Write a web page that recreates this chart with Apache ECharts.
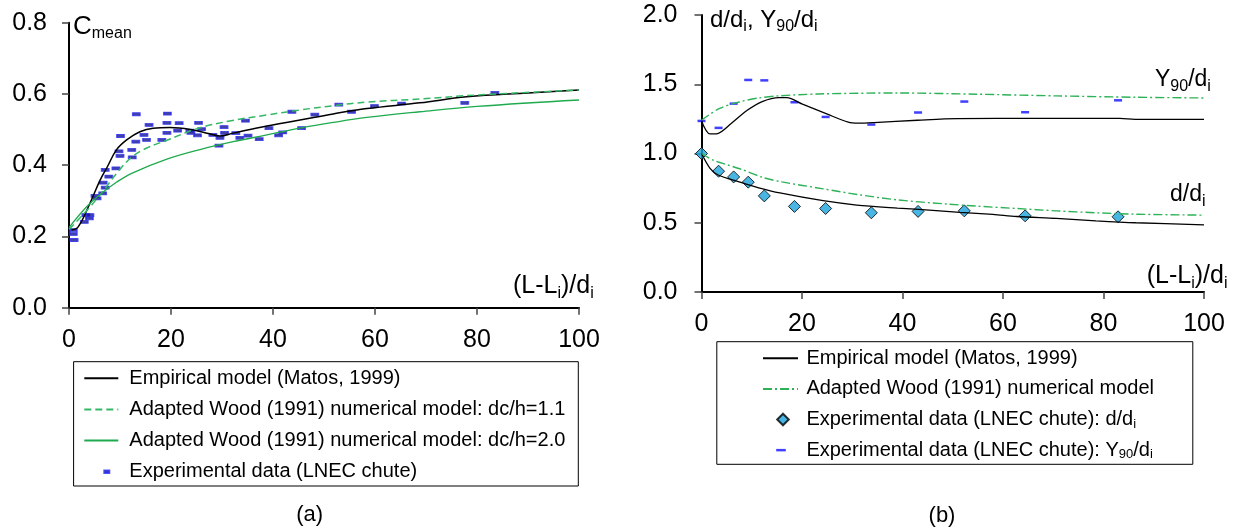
<!DOCTYPE html>
<html>
<head>
<meta charset="utf-8">
<script src="https://cdn.jsdelivr.net/npm/echarts@6/dist/echarts.min.js"></script>
<style>
  html, body { margin: 0; background: #fff; }
  #main { width: 1242px; height: 531px; }
</style>
</head>
<body>
<div id="main"></div>
<script>
// ---- (a) mean air concentration ----
var expX = [0.85,0.85,1.0,3.0,3.3,4.1,4.0,5.1,5.5,6.6,7.1,6.7,7.8,7.1,9.2,10.0,9.8,10.1,12.4,12.3,13.2,13.1,14.7,15.2,15.7,18.2,19.3,19.2,19.2,21.6,21.3,23.7,23.9,25.4,26.0,25.2,28.2,29.6,29.4,30.4,30.5,32.7,33.5,34.6,35.1,37.3,39.2,41.1,41.9,43.7,45.6,48.2,52.9,55.4,59.9,65.2,77.6,83.5];
var expC = [0.218,0.207,0.190,0.241,0.260,0.260,0.251,0.314,0.307,0.321,0.337,0.351,0.368,0.387,0.391,0.426,0.439,0.482,0.422,0.443,0.543,0.466,0.485,0.471,0.513,0.471,0.545,0.519,0.491,0.518,0.497,0.497,0.491,0.519,0.501,0.484,0.485,0.477,0.455,0.507,0.491,0.490,0.477,0.525,0.483,0.473,0.504,0.484,0.492,0.550,0.504,0.542,0.570,0.550,0.566,0.573,0.575,0.603];

var empCX = [0.5,1.8,4.1,6.1,7.5,9.3,11.3,13.9,16.5,19.8,24.4,27.6,29.6,32.2,38.8,45.3,51.8,58.4,68.8,78,90,100];
var empC  = [0.218,0.227,0.293,0.358,0.395,0.443,0.471,0.494,0.504,0.506,0.499,0.488,0.482,0.490,0.510,0.527,0.544,0.559,0.575,0.592,0.603,0.611];

var wood11X = [0,3,6,9.8,12.5,15.5,19.2,25,31.5,38.8,45.3,51.8,58.4,68.8,80,100];
var wood11C = [0.220,0.265,0.315,0.385,0.425,0.450,0.470,0.502,0.524,0.541,0.555,0.567,0.577,0.586,0.597,0.611];

var wood20X = [0,3.5,6.1,9.3,12.4,19.2,25.7,32.2,38.8,45.3,51.8,58.4,68.8,80,100];
var wood20C = [0.225,0.284,0.318,0.352,0.378,0.417,0.444,0.466,0.485,0.504,0.520,0.534,0.550,0.565,0.583];

// ---- (b) depth and Y90 ----
var bX = [0,3.4,6.4,9.3,12.5,18.5,24.7,33.8,43.1,52.3,64.4,82.9];
var dRatio   = [1.0,0.872,0.831,0.793,0.694,0.618,0.603,0.572,0.582,0.586,0.550,0.543];
var y90Ratio = [1.235,1.185,1.360,1.531,1.528,1.370,1.264,1.209,1.296,1.375,1.298,1.384];

var empYX = [0,1.7,3.2,5.9,9.1,12.2,15.4,17,20.1,24.8,29.2,31.2,34.3,43,50.9,66.7,83.2,86.3,100];
var empY  = [1.235,1.141,1.144,1.216,1.312,1.377,1.404,1.404,1.356,1.288,1.226,1.219,1.223,1.240,1.252,1.254,1.254,1.247,1.247];
var woodYX = [0,3.5,7.5,11.4,15.4,23.3,39,54.8,70.6,86.4,100];
var woodY  = [1.240,1.324,1.372,1.401,1.416,1.430,1.437,1.428,1.416,1.406,1.401];

var empDX = [0,1.7,3.3,7.5,11.4,15.6,24.2,30.9,39,46,51.4,58,62.7,70.6,78.5,86.4,100];
var empD  = [1.0,0.893,0.845,0.795,0.752,0.715,0.659,0.628,0.606,0.590,0.575,0.560,0.545,0.531,0.514,0.500,0.485];
var woodDX = [0,2.3,5,8,12.3,16,24.2,31.2,39,48.8,54.8,62.7,70.6,78.5,86.4,100];
var woodD  = [1.0,0.953,0.920,0.885,0.826,0.795,0.745,0.703,0.665,0.635,0.620,0.603,0.586,0.572,0.562,0.555];

var legendText = {
  aEmp: 'Empirical model (Matos, 1999)',
  aW11: 'Adapted Wood (1991) numerical model: dc/h=1.1',
  aW20: 'Adapted Wood (1991) numerical model: dc/h=2.0',
  aExp: 'Experimental data (LNEC chute)',
  bEmp: 'Empirical model (Matos, 1999)',
  bWood: 'Adapted Wood (1991) numerical model',
  bD: 'Experimental data (LNEC chute): d/d{s|i}',
  bY: 'Experimental data (LNEC chute): Y{s|90}/d{s|i}'
};

function pairs(xs, ys) {
  return xs.map(function (x, i) { return [x, ys[i]]; });
}

var FONT = '"Liberation Sans", Arial, sans-serif';
var GREEN_DASH = '#35b866';
var GREEN = '#1faa4e';
var GREEN_DD = '#2eb257';

function xAxisCfg(grid) {
  return {
    type: 'value', gridIndex: grid, min: 0, max: 100, interval: 20,
    axisLine: { show: true, onZero: false, lineStyle: { color: '#000', width: 2 } },
    axisTick: { show: true, length: 7, lineStyle: { color: '#444', width: 1.5 } },
    splitLine: { show: false },
    axisLabel: { color: '#000', fontSize: 25, fontFamily: FONT, margin: 20 }
  };
}
function yAxisCfg(grid, max, step, margin) {
  return {
    type: 'value', gridIndex: grid, min: 0, max: max, interval: step,
    axisLine: { show: true, onZero: false, lineStyle: { color: '#000', width: 2 } },
    axisTick: { show: true, length: 7, lineStyle: { color: '#444', width: 1.5 } },
    splitLine: { show: false },
    axisLabel: { color: '#000', fontSize: 25, fontFamily: FONT, margin: margin,
      formatter: function (v) { return v.toFixed(1); } }
  };
}

// line series: no symbol, and the legend circle hidden
function curve(name, grid, xs, ys, color, width, type, smooth) {
  return {
    name: name, type: 'line', xAxisIndex: grid, yAxisIndex: grid, data: pairs(xs, ys),
    symbol: 'none', smooth: smooth,
    lineStyle: { color: color, width: width, type: type || 'solid' },
    itemStyle: { color: color, opacity: 0 }
  };
}

var rich = {
  s: { fontSize: 16, lineHeight: 16, verticalAlign: 'bottom', fontFamily: FONT, color: '#000' }
};
var legRich = {
  s: { fontSize: 13, lineHeight: 12, verticalAlign: 'bottom', fontFamily: FONT, color: '#000' }
};

function label(x, y, text, size) {
  return {
    type: 'text', x: x, y: y, silent: true,
    style: { text: text, fontSize: size, lineHeight: 30, fontFamily: FONT, fill: '#000',
      verticalAlign: 'top', rich: rich }
  };
}

var chart = echarts.init(document.getElementById('main'));
var option = {
  animation: false,
  backgroundColor: '#fff',
  grid: [
    { left: 69, top: 22.7, width: 510, height: 285 },
    { left: 701.5, top: 15, width: 502.5, height: 277 }
  ],
  xAxis: [xAxisCfg(0), xAxisCfg(1)],
  yAxis: [yAxisCfg(0, 0.8, 0.2, 22), yAxisCfg(1, 2.0, 0.5, 24)],
  legend: [
    {
      orient: 'vertical', left: 83.3, top: 367.3, padding: 0,
      itemWidth: 34, itemHeight: 14, itemGap: 9.1, selectedMode: false,
      data: ['aEmp', 'aW11', 'aW20',
        { name: 'aExp', icon: 'path://M0,0M34,14M20,5.8h5v2.6h-5z' }],
      formatter: function (n) { return legendText[n]; },
      textStyle: { color: '#000', fontSize: 20, lineHeight: 22, fontFamily: FONT,
        padding: [0, 0, 0, 6], rich: legRich }
    },
    {
      orient: 'vertical', left: 762, top: 347.3, padding: 0,
      itemWidth: 35, itemHeight: 14, itemGap: 8.6, selectedMode: false,
      data: ['bEmp', 'bWood',
        { name: 'bD', icon: 'path://M0,0M35,14M20,1.2L25.8,7L20,12.8L14.2,7Z' },
        { name: 'bY', icon: 'path://M0,0M35,14M13.2,5.8h9.6v2.5h-9.6z' }],
      formatter: function (n) { return legendText[n]; },
      textStyle: { color: '#000', fontSize: 20, lineHeight: 22, fontFamily: FONT,
        padding: [0, 0, 0, 3.4], rich: legRich }
    }
  ],
  graphic: [
    { type: 'rect', silent: true, shape: { x: 73.6, y: 361.7, width: 504.7, height: 124.3 },
      style: { fill: 'none', stroke: '#000', lineWidth: 1 } },
    { type: 'rect', silent: true, shape: { x: 716.8, y: 341.7, width: 476, height: 122.6 },
      style: { fill: 'none', stroke: '#000', lineWidth: 1 } },
    label(73, 11.6, 'C{s|mean}', 26),
    label(513, 271.3, '(L-L{s|i})/d{s|i}', 25),
    label(1146.7, 261.3, '(L-L{s|i})/d{s|i}', 25),
    label(710, 5, 'd/d{s|i}, Y{s|90}/d{s|i}', 24),
    label(1155, 64.7, 'Y{s|90}/d{s|i}', 23),
    label(1170, 179.7, 'd/d{s|i}', 23),
    { type: 'text', x: 309.7, y: 515, silent: true,
      style: { text: '(a)', fontSize: 22, fontFamily: FONT, fill: '#000', align: 'center', verticalAlign: 'middle' } },
    { type: 'text', x: 942, y: 516, silent: true,
      style: { text: '(b)', fontSize: 22, fontFamily: FONT, fill: '#000', align: 'center', verticalAlign: 'middle' } }
  ],
  series: [
    curve('aEmp', 0, empCX, empC, '#000', 1.5, null, 0.4),
    curve('aW11', 0, wood11X, wood11C, GREEN_DASH, 1.5, [7, 4], 0.4),
    curve('aW20', 0, wood20X, wood20C, GREEN, 1.3, null, 0.4),
    { name: 'aExp', type: 'scatter', xAxisIndex: 0, yAxisIndex: 0, data: pairs(expX, expC),
      symbol: 'rect', symbolSize: [7, 3],
      itemStyle: { color: '#14148e', borderColor: '#2b2bf0', borderWidth: 1.2 } },

    curve('bEmp', 1, empYX, empY, '#000', 1.3, null, 0.3),
    curve('bEmp', 1, empDX, empD, '#000', 1.3, null, 0.3),
    curve('bWood', 1, woodYX, woodY, GREEN_DD, 1.4, [9, 3, 2, 3], 0.3),
    curve('bWood', 1, woodDX, woodD, GREEN_DD, 1.4, [9, 3, 2, 3], 0.3),
    { name: 'bD', type: 'scatter', xAxisIndex: 1, yAxisIndex: 1, data: pairs(bX, dRatio),
      symbol: 'diamond', symbolSize: 12,
      itemStyle: { color: '#1ba3dc', borderColor: '#000', borderWidth: 1 } },
    { name: 'bY', type: 'scatter', xAxisIndex: 1, yAxisIndex: 1, data: pairs(bX, y90Ratio),
      symbol: 'rect', symbolSize: [8, 2.5], itemStyle: { color: '#1010ff' } }
  ]
};
chart.setOption(option);
</script>
</body>
</html>
